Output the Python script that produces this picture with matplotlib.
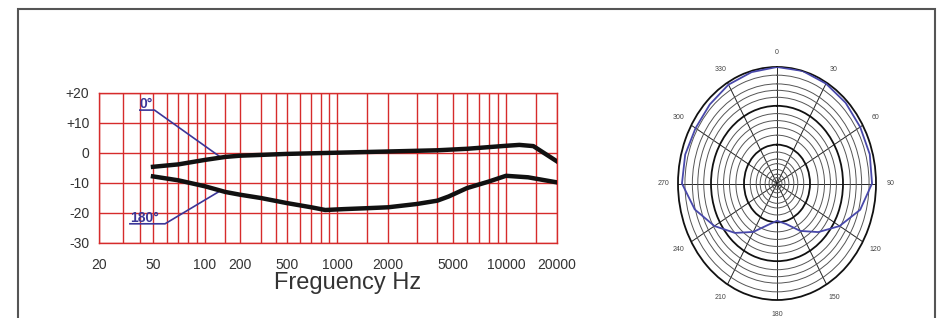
import matplotlib
matplotlib.use('Agg')
import matplotlib.pyplot as plt
import matplotlib.patches as patches
import numpy as np

plt.rcParams['font.family'] = ['Liberation Sans', 'DejaVu Sans']

# ---- data ----
# 0 deg response (frequency Hz, dB)
freq_0 = [50, 70, 100, 150, 200, 500, 1000, 2000, 4000, 6000, 10000, 12000, 14500, 20000]
resp_0 = [-4.6, -3.8, -2.3, -1.3, -0.9, -0.3, 0.1, 0.5, 0.9, 1.4, 2.4, 2.7, 2.3, -2.8]

# 180 deg response
freq_180 = [50, 70, 100, 150, 200, 300, 500, 700, 850, 1100, 1500, 2000, 3000,
            4000, 4700, 6000, 8000, 10000, 13500, 20000]
resp_180 = [-7.8, -9.1, -11.1, -13.0, -13.9, -15.0, -16.7, -18.1, -19.0, -18.7,
            -18.4, -18.1, -17.0, -15.9, -14.5, -11.7, -9.5, -7.6, -8.1, -9.8]

freq_labels = [20, 50, 100, 200, 500, 1000, 2000, 5000, 10000, 20000]
freq_grid = [30, 40, 60, 70, 80, 90, 150, 300, 400, 600, 700, 800, 900,
             1500, 3000, 4000, 6000, 7000, 8000, 9000, 15000]
db_ticks = [-30, -20, -10, 0, 10, 20]
db_labels = ['-30', '-20', '-10', '0', '+10', '+20']

# polar pattern (angle deg, relative level)
polar_deg = [0, 15, 30, 45, 60, 75, 90, 105, 120, 135, 150, 165, 180,
             195, 210, 225, 240, 255, 270, 285, 300, 315, 330, 345, 360]
polar_r = [1.0, 1.0, 0.99, 0.98, 0.97, 0.97, 0.96, 0.87, 0.73, 0.59, 0.47, 0.36, 0.32,
           0.37, 0.48, 0.6, 0.73, 0.86, 0.96, 0.96, 0.95, 0.96, 0.98, 0.99, 1.0]
angle_labels = ['0', '30', '60', '90', '120', '150', '180', '210', '240', '270', '300', '330']

# ---- styles ----
red = '#d62b2b'
navy = '#3b3698'
blue = '#4848aa'
txt = '#333333'

fig = plt.figure(figsize=(9.39, 3.18), dpi=100)

# outer frame
fig.add_artist(patches.Rectangle((18 / 939, -0.05), (935 - 18) / 939, 1.0217,
                                 transform=fig.transFigure, fill=False,
                                 edgecolor='#555555', linewidth=1.5))

# ---- frequency response ----
ax = fig.add_axes([99 / 939, 1 - 243 / 318, (557 - 99) / 939, 150 / 318])

# chart paper is not a true log grid, map label frequencies to positions
anchor_pos = [0, 54, 106, 141, 188, 238, 289, 354, 407, 458]
anchor_log = np.log10(freq_labels)


def fwd(f):
    f = np.clip(np.asarray(f, dtype=float), 1e-3, None)
    return np.interp(np.log10(f), anchor_log, anchor_pos)


def inv(p):
    return 10 ** np.interp(np.asarray(p, dtype=float), anchor_pos, anchor_log)


ax.set_xscale('function', functions=(fwd, inv))
ax.set_xlim(20, 20000)
ax.set_ylim(-30, 20)

ax.set_xticks(freq_labels)
ax.set_xticklabels([str(f) for f in freq_labels])
ax.set_xticks(freq_grid, minor=True)
ax.set_xticklabels([], minor=True)
ax.set_yticks(db_ticks)
ax.set_yticklabels(db_labels)
ax.tick_params(axis='both', which='both', length=0, labelsize=10, labelcolor=txt)
ax.tick_params(axis='x', pad=11)
ax.tick_params(axis='y', pad=7)
ax.grid(True, which='both', color=red, linewidth=1.0)
for s in ax.spines.values():
    s.set_color(red)
    s.set_linewidth(1.0)

ax.plot(freq_0, resp_0, color='#111111', linewidth=3.2, zorder=4)
ax.plot(freq_180, resp_180, color='#111111', linewidth=3.2, zorder=4)

# curve labels with leader lines
ax.text(40, 15.0, '0°', color=navy, fontsize=10, fontweight='bold', va='baseline', zorder=5)
ax.plot([40, 51, 134], [14.3, 14.3, -1.2], color=navy, linewidth=1.2, zorder=3)
ax.text(33.8, -22.9, '180°', color=navy, fontsize=10, fontweight='bold', va='baseline', zorder=5)
ax.plot([33.8, 58.7, 134], [-23.6, -23.6, -12.7], color=navy, linewidth=1.2, zorder=3)

ax.set_xlabel('Freguency Hz', fontsize=17, color=txt, va='center')
ax.xaxis.set_label_coords((348 - 99) / 458, -0.27)

# ---- polar pattern ----
pax = fig.add_axes([678 / 939, 1 - 300 / 318, 198 / 939, 233 / 318], projection='polar')
pax.set_aspect('auto')
pax.set_theta_zero_location('N')
pax.set_theta_direction(-1)
pax.set_ylim(0, 1)

major_rings = [1 / 3, 2 / 3]
minor_rings = [0.02, 0.05, 0.08, 0.12, 0.17, 0.21, 0.27, 0.415, 0.48, 0.54, 0.6,
               0.74, 0.8, 0.855, 0.93]
pax.set_yticks(major_rings)
pax.set_yticks(minor_rings, minor=True)
pax.set_yticklabels([])
pax.set_yticklabels([], minor=True)
pax.set_xticks(np.deg2rad(np.arange(0, 360, 30)))
pax.set_xticklabels(angle_labels)
pax.tick_params(axis='x', labelsize=5, labelcolor='#444444', pad=0)
pax.tick_params(axis='y', which='both', length=0)
pax.grid(True, axis='y', which='major', color='#111111', linewidth=1.3)
pax.grid(True, axis='y', which='minor', color='#555555', linewidth=0.7)
pax.grid(True, axis='x', color='#222222', linewidth=0.7)
pax.spines['polar'].set_color('#111111')
pax.spines['polar'].set_linewidth(1.3)

pax.plot(np.deg2rad(polar_deg), polar_r, color=blue, linewidth=1.3, zorder=5)

fig.savefig('out.png', dpi=100)
